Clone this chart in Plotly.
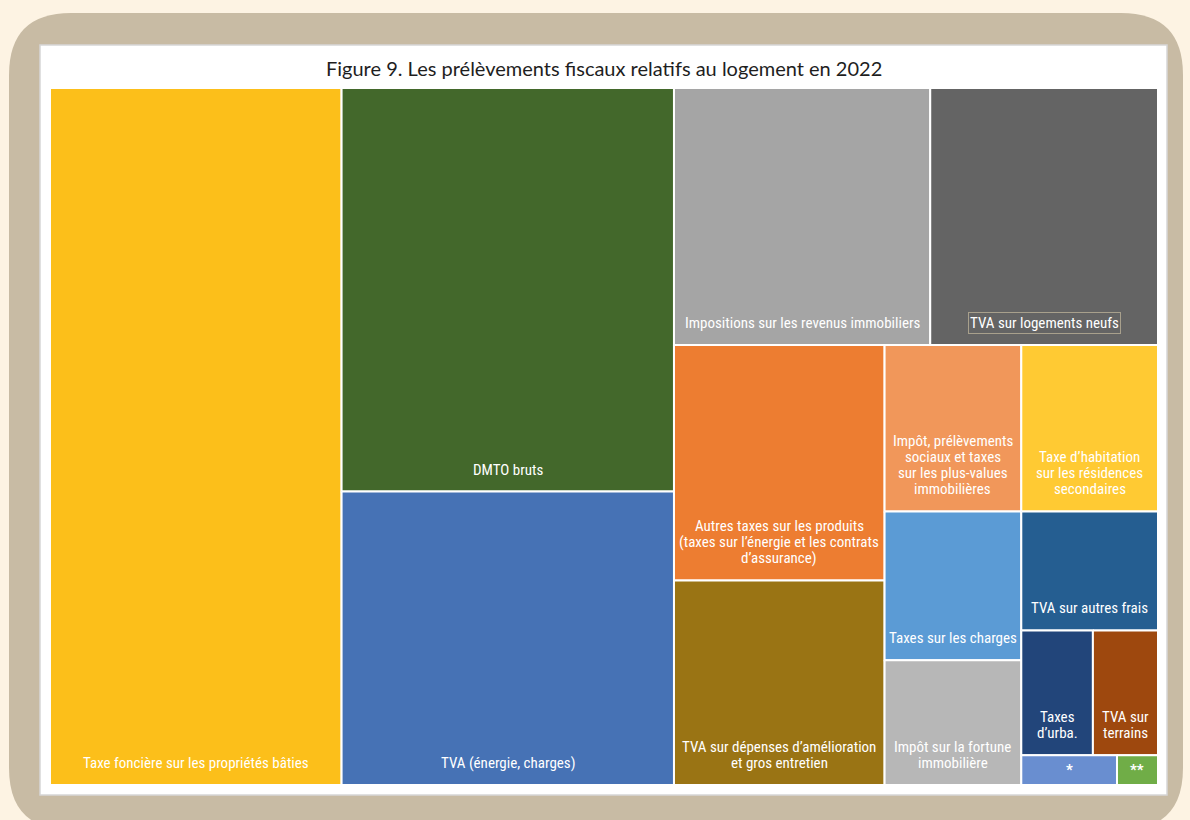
import plotly.graph_objects as go

# ---------------- data (Md€, read from tile areas) ----------------
labels = [
    "Taxe foncière sur les propriétés bâties",
    "DMTO bruts",
    "TVA (énergie, charges)",
    "Impositions sur les revenus immobiliers",
    "TVA sur logements neufs",
    "Autres taxes sur les produits (taxes sur l’énergie et les contrats d’assurance)",
    "TVA sur dépenses d’amélioration et gros entretien",
    "Impôt, prélèvements sociaux et taxes sur les plus-values immobilières",
    "Taxes sur les charges",
    "Impôt sur la fortune immobilière",
    "Taxe d’habitation sur les résidences secondaires",
    "TVA sur autres frais",
    "Taxes d’urba.",
    "TVA sur terrains",
    "*",
    "**",
]
values = [25.0, 16.5, 12.0, 8.1, 7.2, 6.1, 5.3, 2.8, 2.5, 2.1, 2.8, 2.0, 1.1, 1.0, 0.35, 0.15]
display_text = [
    "Taxe foncière sur les propriétés bâties",
    "DMTO bruts",
    "TVA (énergie, charges)",
    "Impositions sur les revenus immobiliers",
    "TVA sur logements neufs",
    "Autres taxes sur les produits<br>(taxes sur l’énergie et les contrats<br>d’assurance)",
    "TVA sur dépenses d’amélioration<br>et gros entretien",
    "Impôt, prélèvements<br>sociaux et taxes<br>sur les plus-values<br>immobilières",
    "Taxes sur les charges",
    "Impôt sur la fortune<br>immobilière",
    "Taxe d’habitation<br>sur les résidences<br>secondaires",
    "TVA sur autres frais",
    "Taxes<br>d’urba.",
    "TVA sur<br>terrains",
    "*",
    "**",
]
colors = [
    "#FCBF1A", "#43682B", "#4672B5", "#A5A5A5", "#646464", "#ED7D31",
    "#9A7414", "#F1975A", "#5B9BD5", "#B7B7B7", "#FFCA33", "#255E91",
    "#22457A", "#9E480E", "#698ED0", "#70AD47",
]
title_text = "Figure 9. Les prélèvements fiscaux relatifs au logement en 2022"

# ---------------- tiling structure (h = side by side, v = stacked) ----------------
structure = ("h", [
    0,
    ("v", [1, 2]),
    ("v", [
        ("h", [3, 4]),
        ("h", [
            ("v", [5, 6]),
            ("h", [
                ("v", [7, 8, 9]),
                ("v", [10, 11, ("h", [12, 13]), ("h", [14, 15])]),
            ]),
        ]),
    ]),
])


def total(node):
    if isinstance(node, int):
        return values[node]
    return sum(total(c) for c in node[1])


rects = {}


def tile(node, x0, y0, x1, y1):
    if isinstance(node, int):
        rects[node] = (x0, y0, x1, y1)
        return
    orient, children = node
    t = total(node)
    pos = x0 if orient == "h" else y0
    for c in children:
        frac = total(c) / t
        if orient == "h":
            w = (x1 - x0) * frac
            tile(c, pos, y0, pos + w, y1)
            pos += w
        else:
            h = (y1 - y0) * frac
            tile(c, x0, pos, x1, pos + h)
            pos += h


tile(structure, 0.0, 0.0, 1.0, 1.0)

# ---------------- figure geometry ----------------
W, H = 1190, 820
ML, MR, MT, MB = 50, 32, 88, 35
PW, PH = W - ML - MR, H - MT - MB


def px(x):
    return (x - ML) / PW


def py(y):
    return (H - MB - y) / PH


def rounded_path(x0, y0, x1, y1, r):
    pts = [
        f"M {px(x0 + r)} {py(y0)}",
        f"L {px(x1 - r)} {py(y0)}",
        f"Q {px(x1)} {py(y0)} {px(x1)} {py(y0 + r)}",
        f"L {px(x1)} {py(y1 - r)}",
        f"Q {px(x1)} {py(y1)} {px(x1 - r)} {py(y1)}",
        f"L {px(x0 + r)} {py(y1)}",
        f"Q {px(x0)} {py(y1)} {px(x0)} {py(y1 - r)}",
        f"L {px(x0)} {py(y0 + r)}",
        f"Q {px(x0)} {py(y0)} {px(x0 + r)} {py(y0)}",
        "Z",
    ]
    return " ".join(pts)


fig = go.Figure()

for i, (lab, val, col) in enumerate(zip(labels, values, colors)):
    x0, y0, x1, y1 = rects[i]
    fig.add_trace(go.Scatter(
        x=[x0, x1, x1, x0, x0], y=[y0, y0, y1, y1, y0],
        mode="lines", fill="toself", fillcolor=col,
        line=dict(color="white", width=2),
        hoveron="fills", name=lab,
        hovertemplate=f"{lab}<br>{val} Md€<extra></extra>",
        showlegend=False,
    ))

label_font = dict(family="Liberation Sans Narrow, Arial Narrow, Roboto Condensed, DejaVu Sans Condensed, Roboto, sans-serif",
                  size=15, color="white")
LINE_H = 16
BASE_SHIFT = 11

for i, txt in enumerate(display_text):
    x0, y0, x1, y1 = rects[i]
    if txt in ("*", "**"):
        fig.add_annotation(x=(x0 + x1) / 2, y=(y0 + y1) / 2, text=f"<b>{txt}</b>",
                           showarrow=False, xanchor="center", yanchor="middle",
                           font=label_font, xref="x", yref="y")
        continue
    lines = txt.split("<br>")
    n = len(lines)
    for k, line in enumerate(lines):
        extra = {}
        if i == 4:
            extra = dict(bordercolor="#A8A08C", borderwidth=1, borderpad=1)
        fig.add_annotation(x=(x0 + x1) / 2, y=y1, text=line, showarrow=False,
                           xanchor="center", yanchor="bottom",
                           yshift=BASE_SHIFT + (n - 1 - k) * LINE_H,
                           align="center", font=label_font, xref="x", yref="y", **extra)

# background decoration
shapes = [
    dict(type="path", xref="paper", yref="paper", path=rounded_path(9, 13, 1183, 830, 62),
         fillcolor="#C8BBA4", line=dict(width=0), layer="below"),
    dict(type="rect", xref="paper", yref="paper", x0=px(40), x1=px(1167), y0=py(45), y1=py(795),
         fillcolor="white", line=dict(color="#D6D6D6", width=1.5), layer="below"),
]
fig.update_layout(shapes=shapes)

fig.add_annotation(text=title_text, xref="paper", yref="paper", x=px(604), y=py(68),
                   xanchor="center", yanchor="middle", showarrow=False,
                   font=dict(family="Lato, Carlito, Open Sans, sans-serif", size=20, color="#1E1E1E"))

fig.update_layout(
    width=W, height=H,
    margin=dict(l=ML, r=MR, t=MT, b=MB, pad=0),
    paper_bgcolor="#FDF3E3",
    plot_bgcolor="rgba(0,0,0,0)",
    xaxis=dict(range=[0, 1], visible=False, fixedrange=True),
    yaxis=dict(range=[1, 0], visible=False, fixedrange=True),
    hovermode="closest",
)

fig.write_html("out.html", config={"displayModeBar": False},
               post_script="document.body.style.margin='0';document.body.style.overflow='hidden';")
